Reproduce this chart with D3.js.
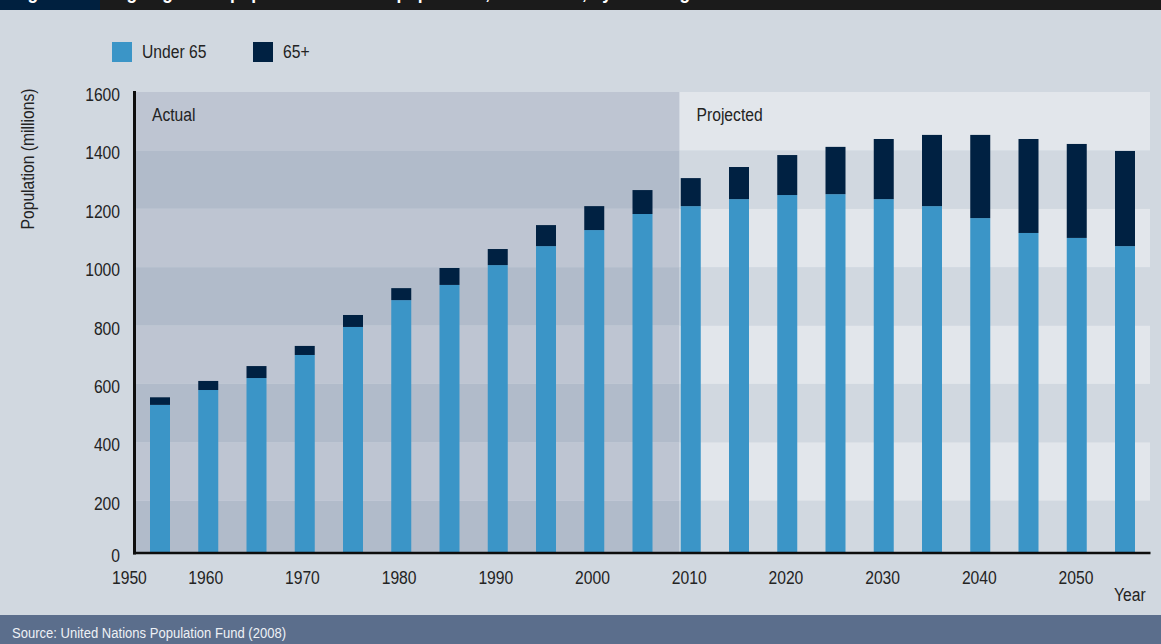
<!DOCTYPE html>
<html>
<head>
<meta charset="utf-8">
<script src="https://cdn.jsdelivr.net/npm/d3@7"></script>
<style>
  html, body { margin: 0; padding: 0; background: #d1d8e0; overflow: hidden; }
  text { font-family: "Liberation Sans", Arial, sans-serif; fill: #232323; }
</style>
</head>
<body>
<svg id="chart" width="1161" height="644"></svg>
<script>
// China's population by broad age group, millions (5-year steps)
const years   = [1950, 1955, 1960, 1965, 1970, 1975, 1980, 1985, 1990, 1995, 2000,
                 2005, 2010, 2015, 2020, 2025, 2030, 2035, 2040, 2045, 2050];
const under65 = [528, 579, 620, 699, 795, 887, 939, 1007, 1072, 1127, 1182,
                 1209, 1233, 1247, 1250, 1233, 1209, 1168, 1117, 1100, 1072];
const over65  = [26, 31, 41, 31, 41, 41, 58, 55, 72, 82, 82,
                 96, 110, 137, 162, 206, 244, 285, 322, 322, 326];

const seriesNames  = ["Under 65", "65+"];
const seriesColors = ["#3b95c7", "#002142"];
const yTicks       = [0, 200, 400, 600, 800, 1000, 1200, 1400, 1600];
const xTickYears   = [1950, 1960, 1970, 1980, 1990, 2000, 2010, 2020, 2030, 2040, 2050];
const periodLabels = ["Actual", "Projected"];
const projectionStartYear = 2009;

const W = 1161, H = 644;
const plot = { left: 136, right: 1150, top: 92, axisY: 553 };
const CONDENSE = 0.87;   // horizontal squeeze giving a condensed typeface look

const svg = d3.select("#chart");

// positions a text with a condensed horizontal scale
function at(x, yPos, extra = "") {
  return `translate(${x},${yPos})${extra} scale(${CONDENSE},1)`;
}

// header strip
svg.append("rect").attr("x", 0).attr("y", 0).attr("width", W).attr("height", 10).attr("fill", "#1b1b1b");
svg.append("rect").attr("x", 0).attr("y", 0).attr("width", 100).attr("height", 10).attr("fill", "#00203f");
svg.append("text").attr("transform", at(12, -1)).style("font-weight", "bold").style("font-size", "20px")
  .style("fill", "#ffffff").text("Figure 5");
svg.append("text").attr("transform", at(114, -1)).style("font-weight", "bold").style("font-size", "20px")
  .style("fill", "#ffffff").text("Ageing of the population: China’s population, 1950–2050, by broad age");

// scales
const y = d3.scaleLinear().domain([0, 1600]).range([559, 92]);
const xBar = d3.scalePoint().domain(years).range([160, 1125]);
const xAxisScale = d3.scaleLinear().domain([1950, 2050]).range([109, 1076]);
const barW = 20;
const splitX = xAxisScale(projectionStartYear);

// clip to plot area
svg.append("defs").append("clipPath").attr("id", "plotClip")
  .append("rect").attr("x", plot.left).attr("y", plot.top)
  .attr("width", plot.right - plot.left).attr("height", plot.axisY - plot.top);

const g = svg.append("g").attr("clip-path", "url(#plotClip)");

// alternating horizontal bands, darker tones for the actual period
const bands = yTicks.slice(0, -1).map((t, i) => ({ lo: t, hi: yTicks[i + 1], dark: i % 2 === 0 }));
const regions = [
  { x0: plot.left, x1: splitX, light: "#bec5d2", dark: "#b1bbca" },
  { x0: splitX, x1: plot.right, light: "#e2e6eb", dark: "#d1d8e0" }
];
regions.forEach(r => {
  g.selectAll(null).data(bands).join("rect")
    .attr("x", r.x0).attr("width", r.x1 - r.x0)
    .attr("y", d => y(d.hi)).attr("height", d => y(d.lo) - y(d.hi))
    .attr("fill", d => d.dark ? r.dark : r.light);
});

// stacked bars
const rows = years.map((yr, i) => ({ year: yr, u: under65[i], o: over65[i] }));
g.selectAll(".u65").data(rows).join("rect").attr("class", "u65")
  .attr("x", d => xBar(d.year) - barW / 2).attr("width", barW)
  .attr("y", d => y(d.u)).attr("height", d => y(0) - y(d.u))
  .attr("fill", seriesColors[0]);
g.selectAll(".o65").data(rows).join("rect").attr("class", "o65")
  .attr("x", d => xBar(d.year) - barW / 2).attr("width", barW)
  .attr("y", d => y(d.u + d.o)).attr("height", d => y(d.u) - y(d.u + d.o))
  .attr("fill", seriesColors[1]);

// period labels
svg.append("text").attr("transform", at(plot.left + 16, 121)).style("font-size", "18px").text(periodLabels[0]);
svg.append("text").attr("transform", at(splitX + 17, 121)).style("font-size", "18px").text(periodLabels[1]);

// axis lines
svg.append("line").attr("x1", 134.5).attr("x2", 134.5).attr("y1", 91).attr("y2", 554.5)
  .attr("stroke", "#0d0d0d").attr("stroke-width", 3);
svg.append("line").attr("x1", 133).attr("x2", 1150.5).attr("y1", plot.axisY).attr("y2", plot.axisY)
  .attr("stroke", "#0d0d0d").attr("stroke-width", 2.6);

// y tick labels
svg.selectAll(".ytick").data(yTicks).join("text").attr("class", "ytick")
  .attr("transform", d => at(120, Math.min(y(d), plot.axisY) + 9))
  .attr("text-anchor", "end").style("font-size", "18px").text(d => d);

// x tick labels
svg.selectAll(".xtick").data(xTickYears).join("text").attr("class", "xtick")
  .attr("transform", (d, i) => at(i === 0 ? xAxisScale(d) + 3 : xAxisScale(d), 584))
  .attr("text-anchor", (d, i) => i === 0 ? "start" : "middle")
  .style("font-size", "18px").text(d => d);

svg.append("text").attr("transform", at(1114, 601)).style("font-size", "18px").text("Year");

// y axis title
svg.append("text").attr("transform", at(34, 159, " rotate(-90)"))
  .attr("text-anchor", "middle").style("font-size", "18px").text("Population (millions)");

// legend
const legend = svg.selectAll(".legend").data(seriesNames).join("g").attr("class", "legend")
  .attr("transform", (d, i) => `translate(${[112, 253][i]},42)`);
legend.append("rect").attr("width", 20).attr("height", 20).attr("fill", (d, i) => seriesColors[i]);
legend.append("text").attr("transform", at(30, 16)).style("font-size", "18px").text(d => d);

// source footer
svg.append("rect").attr("x", 0).attr("y", 615).attr("width", W).attr("height", H - 615).attr("fill", "#5b6e8c");
svg.append("text").attr("transform", at(12, 638)).style("font-size", "15px").style("fill", "#eef1f5")
  .text("Source: United Nations Population Fund (2008)");
</script>
</body>
</html>
